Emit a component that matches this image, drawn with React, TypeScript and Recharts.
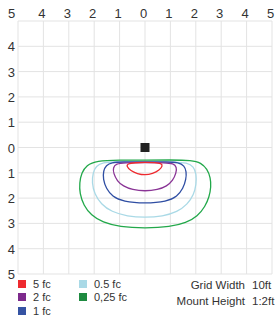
import { CartesianGrid, Scatter, ScatterChart, XAxis, YAxis } from "recharts";

// grid ticks, in feet from the fixture
const gridTicks = [-5, -4, -3, -2, -1, 0, 1, 2, 3, 4, 5];

// iso-footcandle contours, [x, y] in feet (negative y = below fixture)
const fc5: [number, number][] = [
  [0, -0.58], [0.4, -0.6], [0.64, -0.63], [0.7, -0.72], [0.57, -0.9], [0.3, -1.04],
  [0, -1.09], [-0.3, -1.04], [-0.57, -0.92], [-0.72, -0.75], [-0.7, -0.64], [-0.4, -0.6],
];
const fc2: [number, number][] = [
  [0, -0.6], [0.8, -0.6], [1.12, -0.63], [1.25, -0.78], [1.23, -1.0], [1.1, -1.3],
  [0.86, -1.53], [0.5, -1.67], [0, -1.73], [-0.5, -1.67], [-0.86, -1.53], [-1.1, -1.32],
  [-1.24, -1.02], [-1.26, -0.8], [-1.14, -0.64], [-0.8, -0.6],
];
const fc1: [number, number][] = [
  [0, -0.57], [0.9, -0.57], [1.32, -0.59], [1.55, -0.72], [1.63, -0.95], [1.62, -1.25],
  [1.5, -1.62], [1.27, -1.93], [0.86, -2.14], [0, -2.21], [-0.86, -2.14], [-1.29, -1.93],
  [-1.53, -1.62], [-1.65, -1.25], [-1.64, -0.92], [-1.53, -0.7], [-1.32, -0.59], [-0.9, -0.57],
];
const fc05: [number, number][] = [
  [0, -0.57], [1.2, -0.57], [1.65, -0.6], [1.92, -0.75], [2.02, -1.05], [2.02, -1.45],
  [1.92, -1.87], [1.68, -2.24], [1.27, -2.55], [0.7, -2.72], [0, -2.77], [-0.7, -2.72],
  [-1.32, -2.54], [-1.73, -2.24], [-1.99, -1.83], [-2.09, -1.4], [-2.05, -1.0],
  [-1.93, -0.73], [-1.65, -0.59], [-1.2, -0.57],
];
const fc025: [number, number][] = [
  [0, -0.5], [1.0, -0.49], [1.85, -0.5], [2.2, -0.6], [2.45, -0.85], [2.58, -1.2],
  [2.6, -1.55], [2.53, -1.95], [2.37, -2.33], [2.07, -2.72], [1.62, -2.98], [1.0, -3.14],
  [0, -3.19], [-1.0, -3.14], [-1.67, -2.96], [-2.12, -2.68], [-2.42, -2.28],
  [-2.57, -1.82], [-2.58, -1.4], [-2.5, -1.0], [-2.3, -0.7], [-1.92, -0.52], [-1.0, -0.49],
];
const fixture: [number, number][] = [[0, 0]];

const contourNames = ["0,25 fc", "0.5 fc", "1 fc", "2 fc", "5 fc"];
const contourData = [fc025, fc05, fc1, fc2, fc5];
const contourColors = ["#22a84a", "#a9d9e6", "#2f4ea3", "#8a3596", "#ee2a2f"];

// legend, as in the original (two columns)
const legendCol1 = [
  { label: "5 fc", color: "#ee2a2f" },
  { label: "2 fc", color: "#7d2a8c" },
  { label: "1 fc", color: "#3553a3" },
];
const legendCol2 = [
  { label: "0.5 fc", color: "#a9d9e6" },
  { label: "0,25 fc", color: "#1e8a40" },
];
const infoLabels = ["Grid Width", "Mount Height"];
const infoValues = ["10ft", "1:2ft"];

const FONT = '"Liberation Sans", Arial, sans-serif';
const toPts = (arr: [number, number][]) => arr.map(([x, y]) => ({ x, y }));

const TopTick = (props: any) => {
  const { x, y, payload } = props;
  const dx = payload.value === -5 ? -6.5 : -1.5;
  return (
    <text x={x + dx} y={y} textAnchor="middle" fontSize={13} fill="#333" fontFamily={FONT}>
      {Math.abs(payload.value)}
    </text>
  );
};

const LeftTick = (props: any) => {
  const { x, y, payload } = props;
  if (payload.value === 5) return <g />;
  return (
    <text x={x} y={y + 5} textAnchor="end" fontSize={13} fill="#333" fontFamily={FONT}>
      {Math.abs(payload.value)}
    </text>
  );
};

const LegendRow = ({ label, color, top, left }: any) => (
  <div
    style={{
      position: "absolute",
      left,
      top,
      height: 12,
      display: "flex",
      alignItems: "center",
      fontSize: 11,
      lineHeight: "12px",
      color: "#333",
    }}
  >
    <span style={{ width: 8, height: 8, background: color, marginRight: 7, display: "inline-block" }} />
    {label}
  </div>
);

export default function App() {
  return (
    <div
      style={{
        position: "absolute",
        left: 0,
        top: 0,
        width: 279,
        height: 322,
        background: "#fff",
        fontFamily: FONT,
      }}
    >
      <ScatterChart width={279} height={292} margin={{ top: 0, right: 7, bottom: 18, left: 0 }}>
        <CartesianGrid stroke="#e3e3e3" strokeWidth={1} />
        <XAxis
          type="number"
          dataKey="x"
          orientation="top"
          height={21}
          domain={[-5, 5]}
          ticks={gridTicks}
          allowDataOverflow
          axisLine={false}
          tickLine={false}
          tickSize={0}
          tickMargin={3}
          tick={<TopTick />}
          interval={0}
        />
        <YAxis
          type="number"
          dataKey="y"
          width={18}
          domain={[-5, 5]}
          ticks={gridTicks}
          allowDataOverflow
          axisLine={false}
          tickLine={false}
          tickSize={0}
          tickMargin={3}
          tick={<LeftTick />}
          interval={0}
        />
        {contourData.map((d, i) => (
          <Scatter
            key={contourNames[i]}
            name={contourNames[i]}
            data={toPts(d)}
            line={{ stroke: contourColors[i], strokeWidth: 1.3 }}
            lineJointType="basisClosed"
            shape={() => <g />}
            isAnimationActive={false}
          />
        ))}
        <Scatter
          name="fixture"
          data={toPts(fixture)}
          shape={(p: any) => <rect x={p.cx - 4.5} y={p.cy - 4.5} width={9} height={9} fill="#222" />}
          isAnimationActive={false}
        />
      </ScatterChart>
      {legendCol1.map((e, i) => (
        <LegendRow key={e.label} label={e.label} color={e.color} left={18} top={278 + i * 13.3} />
      ))}
      {legendCol2.map((e, i) => (
        <LegendRow key={e.label} label={e.label} color={e.color} left={79} top={278 + i * 13.3} />
      ))}
      {infoLabels.map((l, i) => (
        <div
          key={l}
          style={{
            position: "absolute",
            top: 279 + i * 15.5,
            left: 0,
            width: 279,
            fontSize: 11.5,
            lineHeight: "13px",
            color: "#333",
          }}
        >
          <span style={{ position: "absolute", right: 279 - 245 }}>{l}</span>
          <span style={{ position: "absolute", left: 252 }}>{infoValues[i]}</span>
        </div>
      ))}
    </div>
  );
}
